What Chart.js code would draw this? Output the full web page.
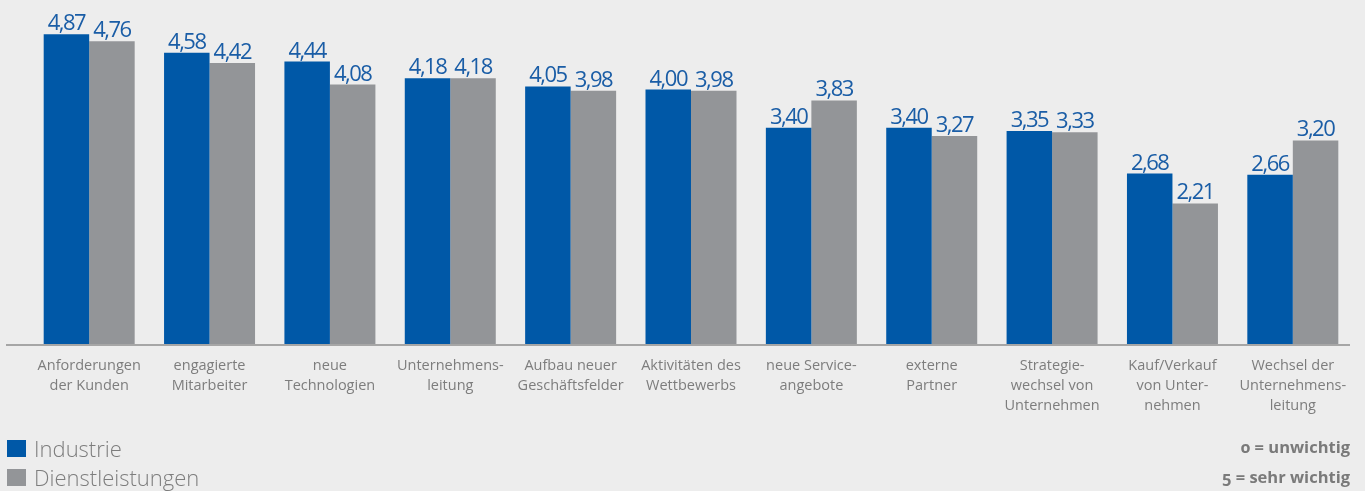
<!DOCTYPE html>
<html lang="de">
<head>
<meta charset="utf-8">
<script src="https://cdn.jsdelivr.net/npm/chart.js@4/dist/chart.umd.min.js"></script>
<style>
  html, body { margin: 0; padding: 0; background: #ededed; }
  #wrap { position: relative; width: 1365px; height: 491px; overflow: hidden; font-family: 'Open Sans', sans-serif; }
  #wrap canvas { position: absolute; left: 0; top: 0; }
  .legend { position: absolute; left: 7px; top: 434px; color: #7d7d7d; font-size: 22px; font-weight: 300; line-height: 29px; }
  .legend div { display: flex; align-items: center; white-space: nowrap; }
  .legend i { display: inline-block; width: 19px; height: 17px; margin-right: 8px; }
  .notes { position: absolute; right: 15px; top: 432px; text-align: right; color: #7a7a7a; font-size: 16.5px; font-weight: 700; line-height: 30px; font-variant-numeric: oldstyle-nums; }
</style>
</head>
<body>
<div id="wrap">
  <canvas id="chart" width="1365" height="491"></canvas>
  <div class="legend">
    <div><i style="background:#0058a7"></i>Industrie</div>
    <div><i style="background:#939598"></i>Dienstleistungen</div>
  </div>
  <div class="notes">
    <div>0 = unwichtig</div>
    <div>5 = sehr wichtig</div>
  </div>
</div>
<script>
const categories = [
  ['Anforderungen', 'der Kunden'],
  ['engagierte', 'Mitarbeiter'],
  ['neue', 'Technologien'],
  ['Unternehmens-', 'leitung'],
  ['Aufbau neuer', 'Geschäftsfelder'],
  ['Aktivitäten des', 'Wettbewerbs'],
  ['neue Service-', 'angebote'],
  ['externe', 'Partner'],
  ['Strategie-', 'wechsel von', 'Unternehmen'],
  ['Kauf/Verkauf', 'von Unter-', 'nehmen'],
  ['Wechsel der', 'Unternehmens-', 'leitung']
]
const industrie = [4.87, 4.58, 4.44, 4.18, 4.05, 4.00, 3.40, 3.40, 3.35, 2.68, 2.66]
const dienstleistungen = [4.76, 4.42, 4.08, 4.18, 3.98, 3.98, 3.83, 3.27, 3.33, 2.21, 3.20]

const BLUE = '#0058a7'
const GREY = '#939598'

const fmt = v => v.toFixed(2).replace('.', ',')

// value above every bar, plus the long base line under the groups
const barExtras = {
  id: 'barExtras',
  afterDatasetsDraw(chart) {
    const { ctx, chartArea } = chart
    ctx.save()
    ctx.strokeStyle = '#8e8e8e'
    ctx.lineWidth = 1.5
    ctx.beginPath()
    ctx.moveTo(6, chartArea.bottom + 1)
    ctx.lineTo(1350, chartArea.bottom + 1)
    ctx.stroke()

    ctx.fillStyle = '#1a5da6'
    ctx.font = '400 22px "Open Sans", sans-serif'
    ctx.letterSpacing = '-1.5px'
    ctx.textAlign = 'center'
    ctx.textBaseline = 'alphabetic'
    chart.data.datasets.forEach((ds, i) => {
      chart.getDatasetMeta(i).data.forEach((bar, j) => {
        ctx.fillText(fmt(ds.data[j]), bar.x, bar.y - 4)
      })
    })
    ctx.restore()
  }
}

new Chart(document.getElementById('chart'), {
  type: 'bar',
  data: {
    labels: categories,
    datasets: [
      { label: 'Industrie', data: industrie, backgroundColor: BLUE },
      { label: 'Dienstleistungen', data: dienstleistungen, backgroundColor: GREY }
    ]
  },
  options: {
    responsive: false,
    animation: false,
    events: [],
    layout: { padding: { left: 29, right: 12, top: 26, bottom: 0 } },
    datasets: { bar: { categoryPercentage: 0.756, barPercentage: 1 } },
    plugins: { legend: { display: false }, tooltip: { enabled: false } },
    scales: {
      x: {
        grid: { display: false },
        border: { display: false },
        ticks: {
          color: '#7d7d7d',
          font: { family: 'Open Sans', size: 14.5, lineHeight: 1.38 },
          padding: 4,
          maxRotation: 0,
          autoSkip: false
        },
        afterFit: scale => { scale.height = 491 - 344 }
      },
      y: { display: false, min: 0, max: 5 }
    }
  },
  plugins: [barExtras]
})
</script>
</body>
</html>
